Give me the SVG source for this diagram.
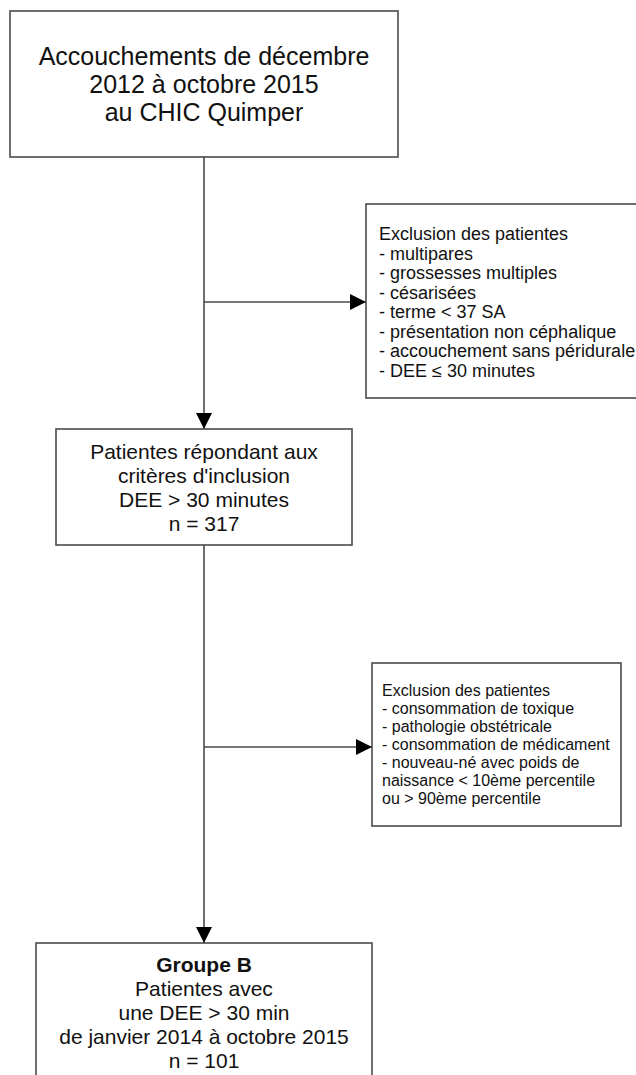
<svg xmlns="http://www.w3.org/2000/svg" width="636" height="1075" viewBox="0 0 636 1075">
<style>
.box{fill:#fff;stroke:#4a4a4a;stroke-width:1.6}
.line{fill:none;stroke:#4a4a4a;stroke-width:1.6}
text{font-family:"Liberation Sans",Arial,sans-serif;fill:#111}
.c{text-anchor:middle}
.t1{font-size:25px}
.t2{font-size:21px}
.t3{font-size:18px}
.t4{font-size:16px}
.b{font-weight:bold}
</style>
<defs>
<marker id="arr" viewBox="0 0 10 10" refX="10" refY="5" markerWidth="10" markerHeight="10" markerUnits="userSpaceOnUse" orient="auto">
<path d="M0,0 L10,5 L0,10 Z" fill="#000"/>
</marker>
<marker id="arrBig" viewBox="0 0 16 16" refX="16" refY="8" markerWidth="17" markerHeight="16" markerUnits="userSpaceOnUse" orient="auto">
<path d="M0,0 L16,8 L0,16 Z" fill="#000"/>
</marker>
</defs>
<g id="connectors">
<line class="line" x1="204" y1="157" x2="204" y2="429" marker-end="url(#arrBig)"/>
<line class="line" x1="204" y1="302" x2="366" y2="302" marker-end="url(#arrBig)"/>
<line class="line" x1="204" y1="545" x2="204" y2="943" marker-end="url(#arrBig)"/>
<line class="line" x1="204" y1="747" x2="372" y2="747" marker-end="url(#arrBig)"/>
</g>
<g id="node-accouchements">
<rect class="box" x="10" y="11" width="388" height="146"/>
<text class="t1 c" x="204" y="65">Accouchements de décembre</text>
<text class="t1 c" x="204" y="93">2012 à octobre 2015</text>
<text class="t1 c" x="204" y="121">au CHIC Quimper</text>
</g>
<g id="node-exclusion1">
<rect class="box" x="366" y="204" width="280" height="194"/>
<text class="t3" x="379" y="240">Exclusion des patientes</text>
<text class="t3" x="379" y="259.5">- multipares</text>
<text class="t3" x="379" y="279">- grossesses multiples</text>
<text class="t3" x="379" y="298.5">- césarisées</text>
<text class="t3" x="379" y="318">- terme &lt; 37 SA</text>
<text class="t3" x="379" y="337.5">- présentation non céphalique</text>
<text class="t3" x="379" y="357">- accouchement sans péridurale</text>
<text class="t3" x="379" y="376.5">- DEE ≤ 30 minutes</text>
</g>
<g id="node-inclusion">
<rect class="box" x="56" y="429" width="296" height="116"/>
<text class="t2 c" x="204" y="459">Patientes répondant aux</text>
<text class="t2 c" x="204" y="483">critères d'inclusion</text>
<text class="t2 c" x="204" y="507">DEE &gt; 30 minutes</text>
<text class="t2 c" x="204" y="531">n = 317</text>
</g>
<g id="node-exclusion2">
<rect class="box" x="372" y="663" width="249" height="163"/>
<text class="t4" x="382" y="696">Exclusion des patientes</text>
<text class="t4" x="382" y="714">- consommation de toxique</text>
<text class="t4" x="382" y="732">- pathologie obstétricale</text>
<text class="t4" x="382" y="750">- consommation de médicament</text>
<text class="t4" x="382" y="768">- nouveau-né avec poids de</text>
<text class="t4" x="382" y="786">naissance &lt; 10ème percentile</text>
<text class="t4" x="382" y="804">ou &gt; 90ème percentile</text>
</g>
<g id="node-groupe-b">
<rect class="box" x="36" y="943" width="336" height="150"/>
<text class="t2 c b" x="204" y="972">Groupe B</text>
<text class="t2 c" x="204" y="996">Patientes avec</text>
<text class="t2 c" x="204" y="1020">une DEE &gt; 30 min</text>
<text class="t2 c" x="204" y="1044">de janvier 2014 à octobre 2015</text>
<text class="t2 c" x="204" y="1068">n = 101</text>
</g>
</svg>
